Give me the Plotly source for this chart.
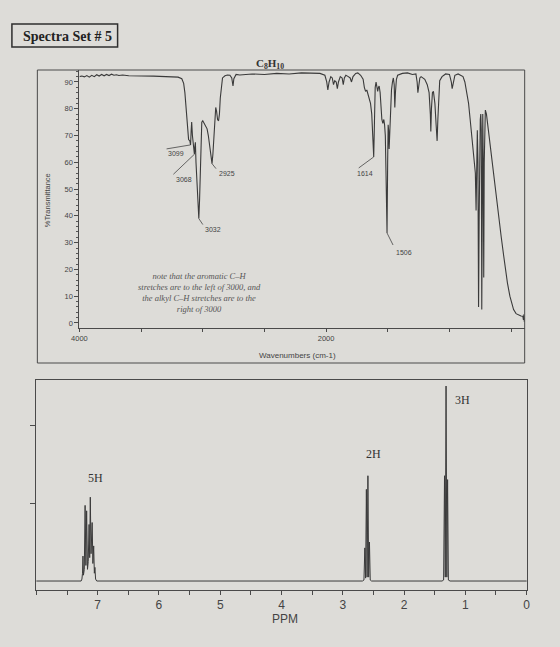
import plotly.graph_objects as go

# ---------------- data ----------------
ir_wn = [4000, 3980, 3960, 3940, 3920, 3900, 3880, 3860, 3840, 3820,
         3800, 3780, 3760, 3740, 3720, 3700, 3680, 3650, 3600, 3500,
         3400, 3300, 3200, 3170, 3155, 3145, 3135, 3125, 3115, 3105,
         3099, 3094, 3090, 3084, 3078, 3072, 3068, 3064, 3060, 3055,
         3048, 3040, 3032, 3026, 3020, 3014, 3008, 3000, 2990, 2975,
         2965, 2955, 2945, 2935, 2925, 2918, 2910, 2902, 2895, 2888,
         2880, 2872, 2865, 2858, 2850, 2840, 2820, 2800, 2780, 2765,
         2755, 2748, 2730, 2700, 2600, 2500, 2400, 2300, 2200, 2100,
         2050, 2010, 1995, 1986, 1976, 1962, 1950, 1940, 1930, 1918,
         1909, 1900, 1885, 1870, 1861, 1852, 1840, 1820, 1805, 1794,
         1782, 1760, 1743, 1720, 1700, 1690, 1680, 1670, 1660, 1650,
         1640, 1630, 1622, 1614, 1608, 1602, 1595, 1588, 1582, 1576,
         1570, 1562, 1555, 1548, 1540, 1532, 1526, 1520, 1514, 1506,
         1501, 1497, 1493, 1489, 1484, 1478, 1470, 1462, 1455, 1448,
         1443, 1438, 1430, 1420, 1382, 1340, 1300, 1272, 1262, 1256,
         1250, 1240, 1230, 1200, 1180, 1165, 1155, 1151, 1146, 1138,
         1130, 1118, 1108, 1100, 1094, 1087, 1079, 1060, 1031, 1000,
         985, 978, 970, 956, 930, 910, 890, 875, 860, 845,
         832, 820, 808, 798, 790, 784, 779, 774, 769, 764,
         759, 754, 750, 746, 742, 738, 734, 730, 726, 722,
         718, 714, 709, 700, 690, 680, 670, 656, 640, 620,
         603, 580, 560, 549, 530, 510, 496, 480, 460, 442,
         420, 405, 400, 396, 393, 390]
ir_t = [92.0, 92.2, 91.9, 92.4, 91.8, 92.5, 92.0, 92.7, 92.2, 92.8,
        92.3, 92.8, 92.4, 92.9, 92.5, 92.7, 92.4, 92.6, 92.3, 92.3,
        92.2, 92.0, 91.8, 91.2, 89.5, 86.0, 80.0, 72.0, 68.5, 68.0,
        66.5, 72.0, 75.0, 70.0, 66.0, 64.0, 63.0, 66.0, 67.5, 60.0,
        52.0, 44.0, 39.0, 46.0, 58.0, 70.0, 75.0, 75.5, 74.5, 73.0,
        72.5, 70.0, 66.0, 62.0, 59.5, 63.0, 70.0, 77.0, 80.5, 79.0,
        76.0, 75.5, 78.0, 84.0, 89.0, 91.5, 92.3, 92.6, 92.5, 91.5,
        88.5, 91.2, 92.8, 92.6, 93.0, 92.8, 93.2, 93.0, 93.4, 93.3,
        93.2, 92.5, 90.0, 87.0, 90.0, 92.0, 91.5, 89.0, 90.5, 90.0,
        87.5, 90.0, 92.0, 91.5, 89.0, 91.5, 92.5, 92.0, 91.5, 90.0,
        92.0, 93.2, 93.4, 92.5, 91.0, 88.0, 86.5, 87.0, 85.0, 83.0,
        82.0, 78.0, 70.0, 62.0, 75.0, 88.0, 90.0, 88.5, 86.5, 88.0,
        88.5, 86.0, 80.0, 76.0, 74.5, 76.0, 74.0, 70.0, 55.0, 33.6,
        60.0, 74.0, 72.0, 65.0, 72.0, 82.0, 87.0, 90.0, 91.5, 89.0,
        80.5, 86.0, 91.0, 92.5, 93.2, 93.4, 92.8, 93.0, 90.0, 86.0,
        89.0, 91.5, 92.0, 91.0, 89.0, 86.0, 78.0, 71.5, 80.0, 86.0,
        86.5, 82.0, 74.0, 68.0, 76.0, 86.0, 90.5, 92.0, 93.0, 92.8,
        90.0, 87.5, 90.0, 92.5, 93.0, 92.6, 92.0, 90.0, 86.0, 82.0,
        76.0, 70.0, 67.0, 62.0, 56.0, 42.0, 62.0, 72.0, 60.0, 6.0,
        40.0, 70.0, 76.0, 78.0, 72.0, 5.0, 50.0, 78.0, 60.0, 17.0,
        60.0, 78.0, 79.5, 78.0, 74.0, 70.0, 66.0, 62.0, 55.0, 48.0,
        41.0, 32.0, 25.0, 21.0, 15.0, 10.0, 7.4, 5.0, 3.5, 3.0,
        2.6, 2.5, 1.2, 3.2, 0.5, 2.0]

ir_yticks = [0, 10, 20, 30, 40, 50, 60, 70, 80, 90]
ir_xticks = [4000, 2000]
ir_xminor = 500

peak_labels = ["3099", "3068", "3032", "2925", "1614", "1506"]
peak_wn = [3099, 3068, 3032, 2925, 1614, 1506]

nmr_ppm = [8.10, 7.27, 7.257, 7.247, 7.24, 7.232, 7.218, 7.205, 7.192, 7.18,
           7.166, 7.154, 7.14, 7.13, 7.12, 7.108, 7.09, 7.078, 7.065, 7.054,
           7.045, 7.034, 7.015,
           2.68, 2.655, 2.64, 2.628, 2.615, 2.603, 2.59, 2.578, 2.565, 2.552, 2.53,
           1.38, 1.355, 1.34, 1.328, 1.315, 1.302, 1.29, 1.277, 1.25, -0.10]
nmr_int = [0, 0, 1, 4, 12.8, 3, 6, 38.8, 8, 36,
           6, 10, 29, 12, 43, 14, 30, 9, 18, 4,
           7, 1, 0,
           0, 0.5, 17, 1.5, 47, 2, 54, 2, 20, 0.5, 0,
           0, 0.5, 54, 2, 100, 2, 52, 0.5, 0, 0]

nmr_xticks = [7, 6, 5, 4, 3, 2, 1, 0]
nmr_xminor = 0.5
nmr_yticks = [40, 80]

nmr_labels = ["5H", "2H", "3H"]
nmr_label_ppm = [7.03, 2.50, 1.05]
nmr_label_int = [53, 65, 93]

# ---------------- style / layout helpers ----------------
W, H = 560, 647
def px(x):
    return x / W
def py(y):
    return 1 - y / H

LINE = "#3a3a3a"
BG = "#dddcd8"
# pointer offsets (pixels, right / down) and label offsets for IR peak labels
ptr_end = [(-24, 4), (-21, 20), (4, 6), (4, 5), (-15, 11), (6, 12)]
lab_off = [(-15, 9), (-10, 25), (14, 11), (15, 10), (-9, 17), (17, 19)]

fig = go.Figure()
fig.add_trace(go.Scatter(x=ir_wn, y=ir_t, mode="lines",
                         line=dict(color=LINE, width=1.1),
                         xaxis="x", yaxis="y", hoverinfo="skip", showlegend=False))
fig.add_trace(go.Scatter(x=nmr_ppm, y=nmr_int, mode="lines",
                         line=dict(color=LINE, width=1),
                         xaxis="x2", yaxis="y2", hoverinfo="skip", showlegend=False))

shapes = [
    dict(type="rect", xref="paper", yref="paper", x0=px(4), x1=px(112), y0=py(47), y1=py(24),
         line=dict(color="#2e2e2e", width=1.5)),
    dict(type="rect", xref="paper", yref="paper", x0=px(30), x1=px(528), y0=py(363), y1=py(70),
         line=dict(color="#4a4a4a", width=1)),
]
annotations = [
    dict(text="<b>Spectra Set # 5</b>", xref="paper", yref="paper", x=px(13), y=py(36),
         xanchor="left", yanchor="middle", showarrow=False,
         font=dict(family="Liberation Serif", size=14, color="#222")),
    dict(text="<b>C<sub>8</sub>H<sub>10</sub></b>", xref="paper", yref="paper", x=px(268), y=py(64),
         xanchor="center", yanchor="middle", showarrow=False,
         font=dict(family="Liberation Serif", size=11, color="#333")),
    dict(text="<i>note that the aromatic C–H<br>stretches are to the left of 3000, and<br>"
              "the alkyl C–H stretches are to the<br>right of 3000</i>",
         xref="paper", yref="paper", x=px(196), y=py(292), xanchor="center", yanchor="middle",
         showarrow=False, align="center",
         font=dict(family="Liberation Serif", size=8.5, color="#555")),
    dict(text="Wavenumbers (cm-1)", xref="paper", yref="paper", x=px(296), y=py(355),
         xanchor="center", yanchor="middle", showarrow=False,
         font=dict(family="Liberation Sans", size=8, color="#444")),
    dict(text="%Transmittance", xref="paper", yref="paper", x=px(40), y=py(200),
         xanchor="center", yanchor="middle", showarrow=False, textangle=-90,
         font=dict(family="Liberation Sans", size=7.5, color="#444")),
    dict(text="PPM", xref="paper", yref="paper", x=px(283), y=py(619),
         xanchor="center", yanchor="middle", showarrow=False,
         font=dict(family="Liberation Sans", size=12, color="#444")),
]

for lab, wn, (dx, dy), (lx, ly) in zip(peak_labels, peak_wn, ptr_end, lab_off):
    t = ir_t[ir_wn.index(wn)]
    shapes.append(dict(type="line", xref="x", yref="y", xsizemode="pixel", ysizemode="pixel",
                       xanchor=wn, yanchor=t, x0=0, y0=0, x1=dx, y1=-dy,
                       line=dict(color="#444", width=0.8)))
    annotations.append(dict(text=lab, xref="x", yref="y", x=wn, y=t, xshift=lx, yshift=-ly,
                            showarrow=False, xanchor="center", yanchor="middle",
                            font=dict(family="Liberation Sans", size=7, color="#444")))

for lab, xp, yp in zip(nmr_labels, nmr_label_ppm, nmr_label_int):
    annotations.append(dict(text=lab, xref="x2", yref="y2", x=xp, y=yp, showarrow=False,
                            xanchor="center", yanchor="middle",
                            font=dict(family="Liberation Serif", size=12, color="#333")))

axis_common = dict(showgrid=False, zeroline=False, showline=True, linecolor="#4a4a4a",
                   linewidth=1, tickcolor="#4a4a4a", ticks="outside")

fig.update_layout(
    width=W, height=H, autosize=False,
    margin=dict(l=0, r=0, t=0, b=0, pad=0),
    paper_bgcolor=BG, plot_bgcolor=BG,
    showlegend=False,
    xaxis=dict(domain=[px(73), px(528)], range=[4000, 390], anchor="y",
               tickvals=ir_xticks, ticklen=3, tickwidth=1,
               minor=dict(dtick=ir_xminor, ticklen=3, tickcolor="#4a4a4a", ticks="outside"),
               tickfont=dict(family="Liberation Sans", size=7.5, color="#444"), **axis_common),
    yaxis=dict(domain=[py(328), py(70)], range=[-1.87, 94.47], anchor="x",
               tickvals=ir_yticks, ticklen=4, tickwidth=1,
               minor=dict(dtick=2, ticklen=2, tickcolor="#555", ticks="outside"),
               tickfont=dict(family="Liberation Sans", size=7.5, color="#444"), **axis_common),
    xaxis2=dict(domain=[px(29), px(530)], range=[8.0, 0], anchor="y2",
                tickvals=nmr_xticks, ticklen=4, tickwidth=1, mirror=True,
                minor=dict(dtick=nmr_xminor, ticklen=4, tickcolor="#4a4a4a", ticks="outside"),
                tickfont=dict(family="Liberation Sans", size=12, color="#444"), **axis_common),
    yaxis2=dict(domain=[py(590), py(380)], range=[-4.6, 103.1], anchor="x2",
                tickvals=nmr_yticks, showticklabels=False, ticklen=5, tickwidth=1, mirror=True,
                **axis_common),
    shapes=shapes,
    annotations=annotations,
)

fig.write_html("out.html")
